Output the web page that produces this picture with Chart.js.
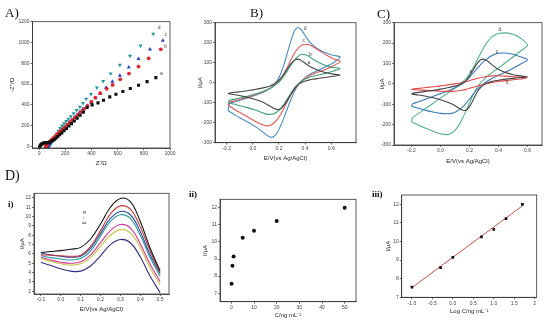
<!DOCTYPE html>
<html>
<head>
<meta charset="utf-8">
<script src="https://cdn.jsdelivr.net/npm/chart.js@4.4.1/dist/chart.umd.min.js"></script>
<style>
  body { margin: 0; background: #fff; }
  #wrap { position: relative; width: 550px; height: 323px; overflow: hidden; }
  canvas { position: absolute; left: 0; top: 0; }
  .lbl { position: absolute; font-family: "Liberation Serif", serif; color: #111; line-height: 1; }
</style>
</head>
<body>
<div id="wrap">
  <canvas id="cA" width="550" height="323"></canvas>
  <canvas id="cB" width="550" height="323"></canvas>
  <canvas id="cC" width="550" height="323"></canvas>
  <canvas id="cD1" width="550" height="323"></canvas>
  <canvas id="cD2" width="550" height="323"></canvas>
  <canvas id="cD3" width="550" height="323"></canvas>
  <div class="lbl" style="left:5px;top:6px;font-size:13px">A)</div>
  <div class="lbl" style="left:250px;top:6px;font-size:13px">B)</div>
  <div class="lbl" style="left:377px;top:7px;font-size:13px">C)</div>
  <div class="lbl" style="left:5px;top:169px;font-size:14px">D)</div>
  <div class="lbl" style="left:8px;top:200px;font-size:9px;font-weight:bold">i)</div>
  <div class="lbl" style="left:189px;top:190px;font-size:9px;font-weight:bold">ii)</div>
  <div class="lbl" style="left:372px;top:190px;font-size:9px;font-weight:bold">iii)</div>
</div>
<script>
'use strict';

// A) Nyquist data, Z' and -Z'' in ohm
const nyqAx = [5, 9, 15, 22, 30, 39, 49, 60, 71, 82, 93, 104, 116, 129, 143, 158, 174, 191, 209, 228, 248, 269, 291, 314, 338, 367, 405, 450, 492, 540, 587, 640, 697, 760, 825, 892];
const nyqAy = [-6, 6, 17, 25, 31, 34, 35, 35, 36, 40, 47, 56, 67, 80, 95, 112, 131, 151, 173, 196, 220, 245, 272, 300, 330, 375, 400, 419, 445, 477, 502, 528, 557, 589, 624, 662];
const nyqBx = [50, 54, 59, 65, 72, 80, 89, 99, 110, 122, 135, 149, 164, 180, 197, 215, 234, 254, 275, 297, 320, 344, 370, 400, 430, 467, 517, 562, 620, 687, 760, 837, 930];
const nyqBy = [-2, 6, 15, 24, 34, 44, 55, 67, 80, 94, 110, 127, 145, 165, 186, 208, 231, 255, 280, 306, 333, 360, 390, 430, 470, 512, 554, 592, 646, 701, 768, 848, 934];
const nyqCx = [62, 65, 69, 74, 80, 87, 95, 104, 114, 125, 137, 150, 164, 179, 195, 212, 230, 249, 269, 290, 312, 335, 367, 397, 430, 467, 512, 560, 617, 685, 760, 847, 945];
const nyqCy = [-8, -2, 5, 13, 22, 32, 43, 56, 70, 85, 101, 119, 138, 158, 180, 203, 227, 252, 278, 305, 333, 362, 394, 422, 464, 509, 566, 624, 682, 762, 842, 934, 1018];
const nyqDx = [72, 74, 77, 81, 86, 92, 99, 107, 116, 126, 137, 149, 162, 176, 191, 207, 224, 243, 264, 287, 312, 336, 360, 397, 442, 490, 547, 617, 695, 775, 872];
const nyqDy = [-6, -1, 5, 13, 23, 35, 49, 65, 83, 103, 125, 149, 175, 200, 222, 243, 265, 290, 318, 348, 380, 416, 458, 502, 566, 627, 701, 784, 870, 970, 1082];

// B) cyclic voltammograms, potential sweep (V) and current (uA)
const eFwdB = [-0.19, -0.179, -0.136, -0.083, -0.029, 0.025, 0.079, 0.133, 0.159, 0.186, 0.213, 0.24, 0.267, 0.294, 0.321, 0.348, 0.374, 0.401, 0.428, 0.455, 0.509, 0.563, 0.616, 0.67];
const eRevB = [0.616, 0.563, 0.509, 0.455, 0.428, 0.401, 0.374, 0.348, 0.321, 0.294, 0.267, 0.24, 0.213, 0.186, 0.159, 0.133, 0.106, 0.079, 0.025, -0.029, -0.083, -0.136, -0.19];

const cvBaF = [-55, -52, -48, -44, -39, -33, -26, -16, -8, 5, 22, 45, 72, 97, 113, 118, 110, 97, 85, 75, 60, 50, 43, 38];
const cvBaR = [32, 27, 22, 17, 13, 8, 1, -10, -28, -55, -85, -112, -130, -134, -128, -118, -108, -98, -85, -75, -67, -60, -55];
const cvBbF = [-100, -88, -82, -74, -65, -55, -43, -28, -18, -5, 12, 35, 62, 90, 115, 133, 142, 140, 132, 120, 100, 85, 76, 72];
const cvBbR = [58, 48, 40, 32, 26, 18, 8, -6, -25, -50, -78, -105, -128, -145, -155, -158, -157, -152, -138, -127, -118, -108, -100];
const cvBcF = [-112, -98, -90, -80, -70, -58, -45, -28, -16, 0, 20, 48, 82, 118, 150, 173, 187, 192, 190, 182, 160, 138, 120, 106];
const cvBcR = [85, 68, 55, 42, 33, 22, 8, -8, -30, -58, -90, -125, -158, -185, -203, -213, -216, -212, -195, -175, -155, -135, -112];
const cvBdF = [-140, -105, -95, -85, -74, -62, -48, -28, -12, 10, 45, 95, 155, 215, 262, 276, 262, 235, 210, 190, 165, 148, 137, 128];
const cvBdR = [100, 82, 65, 48, 38, 25, 10, -10, -40, -80, -125, -172, -215, -250, -270, -272, -262, -248, -222, -200, -182, -162, -140];

// C) cyclic voltammograms
const eFwdC = [-0.2, -0.19, -0.15, -0.1, -0.05, 0, 0.05, 0.1, 0.125, 0.15, 0.175, 0.2, 0.225, 0.25, 0.275, 0.3, 0.325, 0.35, 0.375, 0.4, 0.45, 0.5, 0.55, 0.6];
const eRevC = [0.55, 0.5, 0.45, 0.4, 0.375, 0.35, 0.325, 0.3, 0.275, 0.25, 0.225, 0.2, 0.175, 0.15, 0.125, 0.1, 0.075, 0.05, 0, -0.05, -0.1, -0.15, -0.2];

const cvCaF = [-50, -46, -42, -37, -32, -26, -19, -11, -6, 2, 15, 38, 68, 97, 117, 121, 112, 97, 83, 70, 55, 45, 39, 35];
const cvCaR = [31, 27, 23, 18, 15, 11, 5, -5, -20, -45, -80, -112, -130, -128, -118, -107, -98, -90, -78, -68, -61, -55, -50];
const cvCbF = [-28, -25, -22, -18, -14, -10, -5, 0, 3, 7, 11, 16, 21, 26, 30, 34, 37, 39, 40, 40, 38, 35, 32, 30];
const cvCbR = [24, 20, 16, 12, 9, 6, 2, -2, -7, -12, -17, -22, -27, -31, -34, -36, -37, -37, -36, -34, -32, -30, -28];
const cvCcF = [-110, -97, -88, -75, -62, -48, -35, -20, -11, 0, 14, 32, 52, 73, 93, 110, 125, 137, 145, 150, 151, 145, 133, 118];
const cvCcR = [96, 76, 58, 42, 34, 25, 14, 2, -12, -30, -52, -75, -97, -115, -129, -139, -145, -147, -145, -138, -130, -120, -110];
const cvCdF = [-185, -165, -145, -120, -95, -70, -45, -20, -7, 8, 25, 48, 78, 112, 148, 180, 207, 227, 240, 247, 250, 243, 225, 190];
const cvCdR = [160, 132, 105, 78, 65, 52, 38, 22, 3, -22, -55, -95, -135, -172, -205, -228, -242, -249, -245, -232, -218, -203, -185];

// D) i) DPV curves, ii) and iii) calibration
const dpvE = [-0.1, -0.05, 0, 0.05, 0.1, 0.15, 0.2, 0.25, 0.3, 0.35, 0.4, 0.45, 0.5];
const dpvA = [6.15, 6.25, 6.35, 6.5, 6.7, 7.6, 9.2, 11.0, 11.95, 11.6, 9.5, 6.6, 4.2];
const dpvB = [5.9, 5.85, 5.8, 5.75, 5.85, 6.8, 8.5, 10.3, 11.15, 10.8, 8.9, 6.3, 4.0];
const dpvC = [6.1, 5.9, 5.75, 5.65, 5.75, 6.6, 8.2, 9.8, 10.55, 10.2, 8.4, 5.9, 3.9];
const dpvD = [5.8, 5.6, 5.45, 5.35, 5.5, 6.3, 7.9, 9.5, 10.2, 9.8, 8.0, 5.6, 3.6];
const dpvE5 = [5.65, 5.35, 5.1, 5.0, 5.15, 5.9, 7.2, 8.5, 9.15, 8.8, 7.1, 4.9, 3.05];
const dpvF = [5.5, 5.2, 4.95, 4.8, 4.95, 5.6, 6.8, 8.0, 8.6, 8.25, 6.7, 4.5, 2.7];
const dpvG = [5.1, 4.75, 4.4, 4.15, 4.15, 4.7, 5.8, 7.0, 7.55, 7.2, 5.7, 3.6, 1.85];

const concNg = [0.1, 0.5, 1, 5, 10, 20, 50];
const logConc = [-1, -0.3, 0, 0.7, 1, 1.3, 1.7];
const peakI = [7.55, 8.6, 9.15, 10.25, 10.65, 11.23, 12.0];
const fitLogC = [-1.0, 1.7];
const fitI = [7.52, 11.92];

const W = 550, H = 323;
const SANS = '"Liberation Sans", Arial, sans-serif';
const fix1 = v => v.toFixed(1);
const plain = v => String(v);

function pts(xs, ys) {
  return xs.map((x, i) => ({x: x, y: ys[i]}));
}

function cv(ef, er, fwd, rev, color) {
  return {data: pts(ef, fwd).concat(pts(er, rev)), showLine: true, borderColor: color, borderWidth: 1.1, pointRadius: 0, tension: 0.3};
}

function boxPlugin(tags) {
  return {
    id: 'box',
    afterDatasetsDraw(chart) {
      const ctx = chart.ctx, a = chart.chartArea;
      ctx.save();
      ctx.strokeStyle = '#333';
      ctx.lineWidth = 0.8;
      ctx.strokeRect(a.left, a.top, a.right - a.left, a.bottom - a.top);
      ctx.fillStyle = '#444';
      ctx.font = '5px ' + SANS;
      ctx.textAlign = 'center';
      ctx.textBaseline = 'middle';
      (tags || []).forEach(t => {
        ctx.save();
        ctx.translate(chart.scales.x.getPixelForValue(t.x), chart.scales.y.getPixelForValue(t.y));
        if (t.rot) ctx.rotate(t.rot);
        ctx.fillText(t.text, 0, 0);
        ctx.restore();
      });
      ctx.restore();
    }
  };
}

function axis(spec, size, horizontal) {
  return {
    type: 'linear',
    min: spec.min,
    max: spec.max,
    ticks: {autoSkip: false, maxRotation: 0,
      font: {family: SANS, size: 5}, color: '#444', padding: 1, callback: spec.fmt},
    grid: {drawOnChartArea: false, tickLength: 2, color: '#333', lineWidth: 0.7},
    border: {color: '#333', width: 0.8},
    title: {display: true, text: spec.title, font: {family: SANS, size: 6}, color: '#222', padding: 0},
    // ticks at multiples of the step inside the range
    afterBuildTicks(s) {
      const out = [];
      for (let k = Math.ceil(spec.min / spec.step - 1e-6); k * spec.step <= spec.max + 1e-6; k++) {
        out.push({value: Math.round(k * spec.step * 1e6) / 1e6});
      }
      s.ticks = out;
    },
    afterFit(s) {
      if (horizontal) { s.height = size; s.paddingLeft = 0; s.paddingRight = 0; }
      else { s.width = size; s.paddingTop = 0; s.paddingBottom = 0; }
    }
  };
}

function build(id, box, ml, mb, xSpec, ySpec, datasets, tags) {
  const [l, t, r, b] = box;
  return new Chart(document.getElementById(id), {
    type: 'scatter',
    data: {datasets: datasets},
    options: {
      responsive: false,
      animation: false,
      events: [],
      layout: {padding: {left: l - ml, top: t, right: W - r, bottom: H - b - mb}},
      plugins: {legend: {display: false}, tooltip: {enabled: false}},
      scales: {x: axis(xSpec, mb, true), y: axis(ySpec, ml, false)}
    },
    plugins: [boxPlugin(tags)]
  });
}

// A) Nyquist
build('cA', [32.5, 21.7, 170, 148], 24, 18.6,
  {min: -50, max: 1000, step: 200, title: "Z'/Ω", fmt: plain},
  {min: -15, max: 1200, step: 200, title: "-Z''/Ω", fmt: plain},
  [
    {data: pts(nyqAx, nyqAy), pointStyle: 'rect', pointRadius: 2.2, backgroundColor: '#111', borderWidth: 0},
    {data: pts(nyqBx, nyqBy), pointStyle: 'circle', pointRadius: 1.9, backgroundColor: '#e0262a', borderWidth: 0},
    {data: pts(nyqCx, nyqCy), pointStyle: 'triangle', pointRadius: 2.3, backgroundColor: '#2140c4', borderWidth: 0},
    {data: pts(nyqDx, nyqDy), pointStyle: 'triangle', rotation: 180, pointRadius: 2.3, backgroundColor: '#1f9496', borderWidth: 0}
  ],
  [{x: 935, y: 705, text: 'a'}, {x: 967, y: 960, text: 'b'}, {x: 967, y: 1072, text: 'c'}, {x: 918, y: 1146, text: 'd'}]
);

// B) CV
build('cB', [215, 22.7, 356, 142.7], 18.6, 19,
  {min: -0.29, max: 0.79, step: 0.2, title: 'E/V(vs Ag/AgCl)', fmt: fix1},
  {min: -300, max: 300, step: 100, title: 'I/μA', fmt: plain},
  [
    cv(eFwdB, eRevB, cvBaF, cvBaR, '#454545'),
    cv(eFwdB, eRevB, cvBbF, cvBbR, '#3ea27c'),
    cv(eFwdB, eRevB, cvBcF, cvBcR, '#e05858'),
    cv(eFwdB, eRevB, cvBdF, cvBdR, '#4a8cc0')
  ],
  [{x: 0.43, y: 100, text: 'a'}, {x: 0.44, y: 142, text: 'b'}, {x: 0.39, y: 208, text: 'c'}, {x: 0.4, y: 268, text: 'd'}]
);

// C) CV
build('cC', [394, 22.7, 542, 145], 15, 19.6,
  {min: -0.32, max: 0.7, step: 0.2, title: 'E/V(vs Ag/AgCl)', fmt: fix1},
  {min: -300, max: 300, step: 100, title: 'I/μA', fmt: plain},
  [
    cv(eFwdC, eRevC, cvCaF, cvCaR, '#454545'),
    cv(eFwdC, eRevC, cvCbF, cvCbR, '#e04848'),
    cv(eFwdC, eRevC, cvCcF, cvCcR, '#3d78b8'),
    cv(eFwdC, eRevC, cvCdF, cvCdR, '#55b08c')
  ],
  [{x: 0.21, y: 61, text: 'a'}, {x: 0.46, y: 4, text: 'b'}, {x: 0.39, y: 159, text: 'c'}, {x: 0.41, y: 264, text: 'd'}]
);

// D i) DPV
const dpvSets = [[dpvA, '#111111'], [dpvB, '#c23b3b'], [dpvC, '#2b4aa0'], [dpvD, '#2a9a9a'],
  [dpvE5, '#d03a9c'], [dpvF, '#c9c24a'], [dpvG, '#2e2e80']];
build('cD1', [34, 193.3, 169, 294], 15, 18.6,
  {min: -0.135, max: 0.545, step: 0.1, title: 'E/V(vs Ag/AgCl)', fmt: fix1},
  {min: 1.7, max: 12.5, step: 1, title: 'I/μA', fmt: plain},
  dpvSets.map(s => ({data: pts(dpvE, s[0]), showLine: true, borderColor: s[1], borderWidth: 1.1, pointRadius: 0, tension: 0.4})),
  [{x: 0.12, y: 9.9, text: 'a → g', rot: Math.PI / 2}]
);

// D ii) current vs concentration
build('cD2', [220, 199.3, 356, 301.7], 18.6, 16.9,
  {min: -5, max: 55, step: 10, title: 'C/ng mL⁻¹', fmt: plain},
  {min: 6.5, max: 12.5, step: 1, title: 'I/μA', fmt: plain},
  [{data: pts(concNg, peakI), pointStyle: 'circle', pointRadius: 2, backgroundColor: '#111', borderWidth: 0}]
);

// D iii) current vs log concentration
build('cD3', [401.7, 195, 536.7, 297.3], 17, 18,
  {min: -1.25, max: 2.05, step: 0.5, title: 'Log C/ng mL⁻¹', fmt: v => (v === 2 ? '2' : v.toFixed(1))},
  {min: 7, max: 12.5, step: 1, title: 'I/μA', fmt: plain},
  [
    {data: pts(logConc, peakI), pointStyle: 'rect', pointRadius: 1.9, backgroundColor: '#111', borderWidth: 0},
    {data: pts(fitLogC, fitI), showLine: true, borderColor: '#c8504a', borderWidth: 1, pointRadius: 0}
  ]
);
</script>
</body>
</html>
